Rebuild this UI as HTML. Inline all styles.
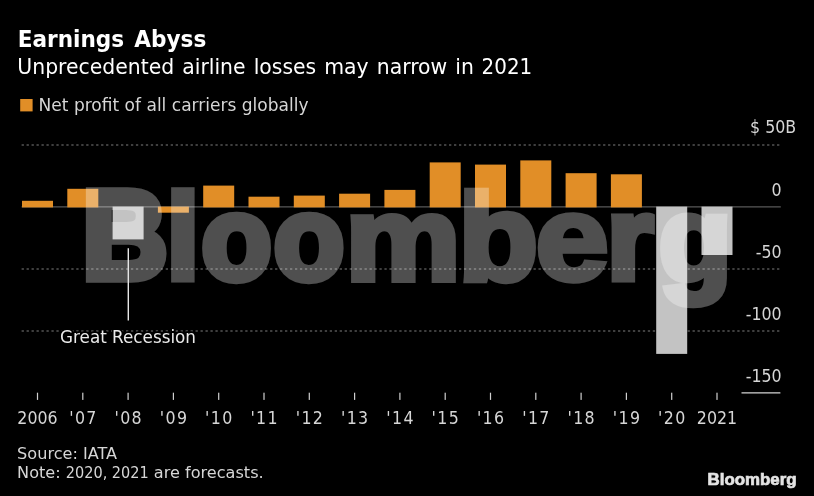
<!DOCTYPE html>
<html><head><meta charset="utf-8"><title>Earnings Abyss</title>
<style>
html,body{margin:0;padding:0;background:#000;overflow:hidden}
svg{display:block}
text{font-family:"DejaVu Sans","Liberation Sans",sans-serif;}
.cd{font-family:"DejaVu Sans Condensed","DejaVu Sans",sans-serif}
.ax text{font-family:"DejaVu Sans Condensed","DejaVu Sans","Liberation Sans",sans-serif;font-size:17.6px;fill:#d6d6d6}
</style></head><body>
<svg width="814" height="496" viewBox="0 0 814 496">
<defs><filter id="wm" filterUnits="userSpaceOnUse" x="0" y="0" width="814" height="496"><feComponentTransfer><feFuncA type="linear" slope="0.31"/></feComponentTransfer></filter></defs>
<rect width="814" height="496" fill="#000"/>
<text x="17.7" y="47.2" font-size="23.4" font-weight="bold" fill="#fff" style="font-family:'DejaVu Sans Condensed','DejaVu Sans',sans-serif;word-spacing:2.5px" textLength="188.6" lengthAdjust="spacingAndGlyphs">Earnings Abyss</text>
<text y="73.8" font-size="20.6" fill="#fff"><tspan x="17.3" textLength="456.6" lengthAdjust="spacingAndGlyphs" style="word-spacing:1.6px">Unprecedented airline losses may narrow in</tspan> <tspan x="481.6" class="cd" textLength="50.6" lengthAdjust="spacingAndGlyphs">2021</tspan></text>
<rect x="20.2" y="99" width="12.4" height="12.4" fill="#e18e27"/>
<text x="38.6" y="111.3" font-size="17" fill="#d6d6d6" textLength="270" lengthAdjust="spacingAndGlyphs">Net profit of all carriers globally</text>
<line x1="21.6" y1="145.0" x2="780.5" y2="145.0" stroke="#7e7e7e" stroke-width="1.1" stroke-dasharray="2.3 2.67"/>
<line x1="21.6" y1="269.0" x2="780.5" y2="269.0" stroke="#7e7e7e" stroke-width="1.1" stroke-dasharray="2.3 2.67"/>
<line x1="21.6" y1="331.05" x2="780.5" y2="331.05" stroke="#7e7e7e" stroke-width="1.1" stroke-dasharray="2.3 2.67"/>
<line x1="21.6" y1="206.95" x2="780.8" y2="206.95" stroke="#585858" stroke-width="1.2"/>
<rect x="22.0" y="200.8" width="31.0" height="6.6" fill="#e18e27"/>
<rect x="67.3" y="188.8" width="31.0" height="18.6" fill="#e18e27"/>
<rect x="112.6" y="206.6" width="31.0" height="32.8" fill="#c3c3c3"/>
<rect x="157.9" y="206.6" width="31.0" height="6.1" fill="#e18e27"/>
<rect x="203.2" y="185.6" width="31.0" height="21.8" fill="#e18e27"/>
<rect x="248.5" y="196.7" width="31.0" height="10.7" fill="#e18e27"/>
<rect x="293.8" y="195.6" width="31.0" height="11.8" fill="#e18e27"/>
<rect x="339.1" y="193.7" width="31.0" height="13.7" fill="#e18e27"/>
<rect x="384.4" y="189.9" width="31.0" height="17.5" fill="#e18e27"/>
<rect x="429.7" y="162.4" width="31.0" height="45.0" fill="#e18e27"/>
<rect x="475.0" y="164.6" width="31.0" height="42.8" fill="#e18e27"/>
<rect x="520.3" y="160.4" width="31.0" height="47.0" fill="#e18e27"/>
<rect x="565.6" y="173.2" width="31.0" height="34.2" fill="#e18e27"/>
<rect x="610.9" y="174.3" width="31.0" height="33.1" fill="#e18e27"/>
<rect x="656.2" y="206.6" width="31.0" height="147.3" fill="#c3c3c3"/>
<rect x="701.5" y="206.6" width="31.0" height="48.4" fill="#c3c3c3"/>
<line x1="741.5" y1="392.9" x2="780.4" y2="392.9" stroke="#d4d4d4" stroke-width="1.3"/>
<g filter="url(#wm)"><g transform="scale(1 1.184)"><text style="font-family:'Liberation Sans',sans-serif" font-weight="bold" font-size="100" fill="#fff" stroke="#fff" stroke-width="6" stroke-linejoin="miter"><tspan x="82.61" y="235.02" textLength="84.86" lengthAdjust="spacingAndGlyphs" font-size="105.2" stroke-width="8.0">B</tspan><tspan x="166.78" y="235.77" textLength="32.35" lengthAdjust="spacingAndGlyphs" font-size="102.0" stroke-width="6.5">l</tspan><tspan x="201.80" y="235.52" textLength="69.60" lengthAdjust="spacingAndGlyphs" font-size="98.4" stroke-width="7.0">o</tspan><tspan x="273.89" y="235.52" textLength="70.00" lengthAdjust="spacingAndGlyphs" font-size="98.4" stroke-width="7.0">o</tspan><tspan x="345.17" y="236.52" textLength="115.37" lengthAdjust="spacingAndGlyphs" font-size="100.8" stroke-width="5.0">m</tspan><tspan x="458.50" y="236.27" textLength="79.36" lengthAdjust="spacingAndGlyphs" font-size="103.1" stroke-width="5.5">b</tspan><tspan x="535.55" y="236.77" textLength="73.36" lengthAdjust="spacingAndGlyphs" font-size="102.1" stroke-width="4.5">e</tspan><tspan x="607.10" y="236.02" textLength="46.10" lengthAdjust="spacingAndGlyphs" font-size="98.6" stroke-width="6.0">r</tspan><tspan x="658.39" y="236.27" textLength="73.54" lengthAdjust="spacingAndGlyphs" font-size="99.6" stroke-width="5.5">g</tspan></text></g></g>
<line x1="128.3" y1="248.3" x2="128.3" y2="320.4" stroke="#e6e6e6" stroke-width="1.4"/>
<text x="60" y="342.7" font-size="17.2" fill="#ebebeb" stroke="#000" stroke-width="3.5" stroke-linejoin="round" paint-order="stroke" textLength="136" lengthAdjust="spacingAndGlyphs">Great Recession</text>
<g class="ax">
<rect x="36.9" y="392.7" width="1.2" height="7.2" fill="#cfcfcf"/>
<rect x="82.2" y="392.7" width="1.2" height="7.2" fill="#cfcfcf"/>
<rect x="127.5" y="392.7" width="1.2" height="7.2" fill="#cfcfcf"/>
<rect x="172.8" y="392.7" width="1.2" height="7.2" fill="#cfcfcf"/>
<rect x="218.1" y="392.7" width="1.2" height="7.2" fill="#cfcfcf"/>
<rect x="263.4" y="392.7" width="1.2" height="7.2" fill="#cfcfcf"/>
<rect x="308.7" y="392.7" width="1.2" height="7.2" fill="#cfcfcf"/>
<rect x="354.0" y="392.7" width="1.2" height="7.2" fill="#cfcfcf"/>
<rect x="399.3" y="392.7" width="1.2" height="7.2" fill="#cfcfcf"/>
<rect x="444.6" y="392.7" width="1.2" height="7.2" fill="#cfcfcf"/>
<rect x="489.9" y="392.7" width="1.2" height="7.2" fill="#cfcfcf"/>
<rect x="535.2" y="392.7" width="1.2" height="7.2" fill="#cfcfcf"/>
<rect x="580.5" y="392.7" width="1.2" height="7.2" fill="#cfcfcf"/>
<rect x="625.8" y="392.7" width="1.2" height="7.2" fill="#cfcfcf"/>
<rect x="671.1" y="392.7" width="1.2" height="7.2" fill="#cfcfcf"/>
<rect x="716.4" y="392.7" width="1.2" height="7.2" fill="#cfcfcf"/>
<text x="37.5" y="423.6" text-anchor="middle">2006</text>
<text x="82.8" y="423.6" text-anchor="middle" textLength="27.2" lengthAdjust="spacing">'07</text>
<text x="128.1" y="423.6" text-anchor="middle" textLength="27.2" lengthAdjust="spacing">'08</text>
<text x="173.4" y="423.6" text-anchor="middle" textLength="27.2" lengthAdjust="spacing">'09</text>
<text x="218.7" y="423.6" text-anchor="middle" textLength="27.2" lengthAdjust="spacing">'10</text>
<text x="264.0" y="423.6" text-anchor="middle" textLength="27.2" lengthAdjust="spacing">'11</text>
<text x="309.3" y="423.6" text-anchor="middle" textLength="27.2" lengthAdjust="spacing">'12</text>
<text x="354.6" y="423.6" text-anchor="middle" textLength="27.2" lengthAdjust="spacing">'13</text>
<text x="399.9" y="423.6" text-anchor="middle" textLength="27.2" lengthAdjust="spacing">'14</text>
<text x="445.2" y="423.6" text-anchor="middle" textLength="27.2" lengthAdjust="spacing">'15</text>
<text x="490.5" y="423.6" text-anchor="middle" textLength="27.2" lengthAdjust="spacing">'16</text>
<text x="535.8" y="423.6" text-anchor="middle" textLength="27.2" lengthAdjust="spacing">'17</text>
<text x="581.1" y="423.6" text-anchor="middle" textLength="27.2" lengthAdjust="spacing">'18</text>
<text x="626.4" y="423.6" text-anchor="middle" textLength="27.2" lengthAdjust="spacing">'19</text>
<text x="671.7" y="423.6" text-anchor="middle" textLength="27.2" lengthAdjust="spacing">'20</text>
<text x="717.0" y="423.6" text-anchor="middle">2021</text>
<text x="796.2" y="133.4" text-anchor="end">$ 50B</text>
<text x="781.6" y="195.8" text-anchor="end">0</text>
<text x="781.6" y="258.1" text-anchor="end">-50</text>
<text x="781.6" y="320" text-anchor="end">-100</text>
<text x="781.6" y="381.7" text-anchor="end">-150</text>
</g>
<text x="17.1" y="459.3" font-size="16" fill="#d6d6d6" textLength="100" lengthAdjust="spacingAndGlyphs">Source: IATA</text>
<text x="17.1" y="478.2" font-size="16" fill="#d6d6d6" textLength="246.6" lengthAdjust="spacingAndGlyphs">Note: <tspan class="cd">2020, 2021</tspan> are forecasts.</text>
<text x="707.6" y="484.5" font-size="17.2" font-weight="bold" fill="#e4e4e4" stroke="#e4e4e4" stroke-width="0.7" style="font-family:'Liberation Sans',sans-serif" textLength="89" lengthAdjust="spacingAndGlyphs">Bloomberg</text>
</svg>
</body></html>
